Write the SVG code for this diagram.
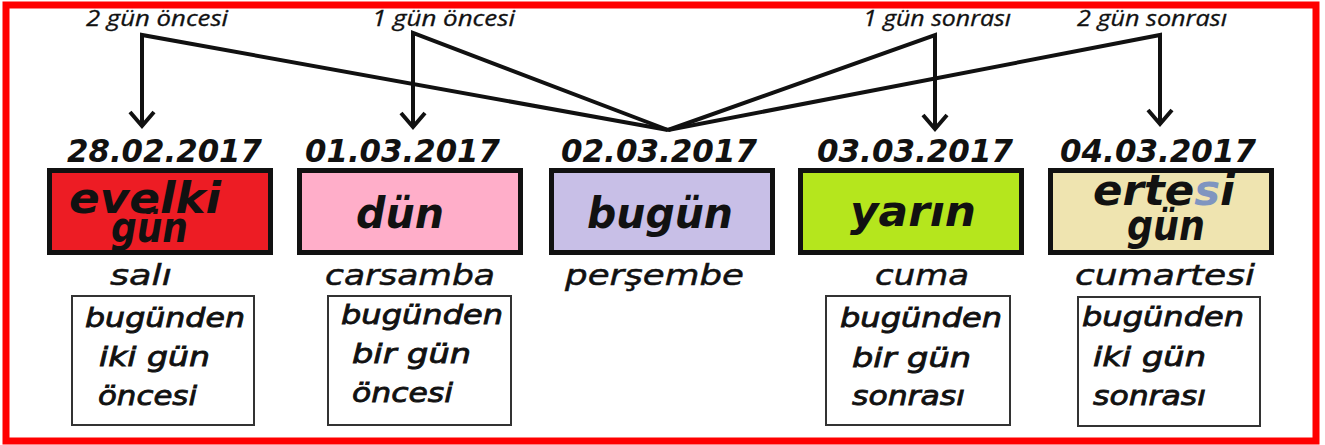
<svg xmlns="http://www.w3.org/2000/svg" width="1325" height="445" viewBox="0 0 1325 445">
<style>
.top{font-family:"Open Sans","DejaVu Sans",sans-serif;font-style:italic;font-size:21px;fill:#111;stroke:#111;stroke-width:0.3}
.date{font-family:"DejaVu Sans",sans-serif;font-style:italic;font-weight:bold;font-size:32px;fill:#111}
.word{font-family:"DejaVu Sans",sans-serif;font-style:italic;font-weight:bold;font-size:43px;fill:#111}
.day{font-family:"DejaVu Sans",sans-serif;font-style:italic;font-size:29px;fill:#111;stroke:#111;stroke-width:0.5}
.note{font-family:"DejaVu Sans",sans-serif;font-style:italic;font-size:26px;fill:#111;stroke:#111;stroke-width:0.8}
.box{stroke:#111;stroke-width:5}
.small{fill:#fff;stroke:#333;stroke-width:2}
.ln{fill:none;stroke:#111;stroke-width:4;stroke-linejoin:miter}
.ah{fill:none;stroke:#111;stroke-width:4;stroke-linejoin:miter}
</style>
<rect x="6" y="5" width="1310" height="436" fill="#fff" stroke="#ff0000" stroke-width="7"/>

<g id="connectors">
  <polyline class="ln" points="142,125 142,35 668,130"/>
  <polyline class="ah" points="130,112 142,126 154,112"/>
  <polyline class="ln" points="413,126 413,33 668,130"/>
  <polyline class="ah" points="401,113 413,127 425,113"/>
  <polyline class="ln" points="935,128 935,35 668,130"/>
  <polyline class="ah" points="923,115 935,129 947,115"/>
  <polyline class="ln" points="1160,123 1160,35 668,130"/>
  <polyline class="ah" points="1148,110 1160,124 1172,110"/>
</g>

<g id="label-2-once"><text class="top" x="86" y="26" textLength="142" lengthAdjust="spacingAndGlyphs">2 gün öncesi</text></g>
<g id="label-1-once"><text class="top" x="372" y="26" textLength="143" lengthAdjust="spacingAndGlyphs">1 gün öncesi</text></g>
<g id="label-1-sonra"><text class="top" x="863" y="26" textLength="148" lengthAdjust="spacingAndGlyphs">1 gün sonrası</text></g>
<g id="label-2-sonra"><text class="top" x="1077" y="26" textLength="150" lengthAdjust="spacingAndGlyphs">2 gün sonrası</text></g>

<g id="node-evelki">
  <text class="date" x="67" y="162" textLength="195" lengthAdjust="spacingAndGlyphs">28.02.2017</text>
  <rect class="box" x="49.5" y="170.5" width="221" height="82" fill="#ed1c24"/>
  <text class="word" x="69" y="213" textLength="152" lengthAdjust="spacingAndGlyphs">evelki</text>
  <text class="word" x="111" y="242" font-size="38" textLength="77" lengthAdjust="spacingAndGlyphs">gün</text>
  <text class="day" x="110" y="285" textLength="62" lengthAdjust="spacingAndGlyphs">salı</text>
  <rect class="small" x="72" y="296" width="182" height="129"/>
  <text class="note" x="85" y="327" textLength="160" lengthAdjust="spacingAndGlyphs">bugünden</text>
  <text class="note" x="99" y="366" textLength="111" lengthAdjust="spacingAndGlyphs">iki gün</text>
  <text class="note" x="98" y="405" textLength="99" lengthAdjust="spacingAndGlyphs">öncesi</text>
</g>

<g id="node-dun">
  <text class="date" x="305" y="162" textLength="195" lengthAdjust="spacingAndGlyphs">01.03.2017</text>
  <rect class="box" x="299.5" y="170.5" width="221" height="82" fill="#ffaec9"/>
  <text class="word" x="356" y="228" textLength="88" lengthAdjust="spacingAndGlyphs">dün</text>
  <text class="day" x="325" y="285" textLength="170" lengthAdjust="spacingAndGlyphs">carsamba</text>
  <rect class="small" x="328" y="296" width="183" height="129"/>
  <text class="note" x="341" y="324" textLength="162" lengthAdjust="spacingAndGlyphs">bugünden</text>
  <text class="note" x="352" y="363" textLength="119" lengthAdjust="spacingAndGlyphs">bir gün</text>
  <text class="note" x="352" y="402" textLength="101" lengthAdjust="spacingAndGlyphs">öncesi</text>
</g>

<g id="node-bugun">
  <text class="date" x="561" y="162" textLength="196" lengthAdjust="spacingAndGlyphs">02.03.2017</text>
  <rect class="box" x="551.5" y="170.5" width="221" height="82" fill="#c8bfe7"/>
  <text class="word" x="587" y="228" textLength="146" lengthAdjust="spacingAndGlyphs">bugün</text>
  <text class="day" x="565" y="285" textLength="179" lengthAdjust="spacingAndGlyphs">perşembe</text>
</g>

<g id="node-yarin">
  <text class="date" x="817" y="162" textLength="196" lengthAdjust="spacingAndGlyphs">03.03.2017</text>
  <rect class="box" x="800.5" y="170.5" width="221" height="82" fill="#b5e61d"/>
  <text class="word" x="850" y="226" textLength="126" lengthAdjust="spacingAndGlyphs">yarın</text>
  <text class="day" x="875" y="285" textLength="94" lengthAdjust="spacingAndGlyphs">cuma</text>
  <rect class="small" x="826" y="296" width="184" height="129"/>
  <text class="note" x="840" y="327" textLength="162" lengthAdjust="spacingAndGlyphs">bugünden</text>
  <text class="note" x="852" y="367" textLength="119" lengthAdjust="spacingAndGlyphs">bir gün</text>
  <text class="note" x="852" y="405" textLength="113" lengthAdjust="spacingAndGlyphs">sonrası</text>
</g>

<g id="node-ertesi">
  <text class="date" x="1060" y="162" textLength="196" lengthAdjust="spacingAndGlyphs">04.03.2017</text>
  <rect class="box" x="1050.5" y="170.5" width="221" height="82" fill="#efe4b0"/>
  <text class="word" x="1093" y="205" textLength="142" lengthAdjust="spacingAndGlyphs">erte<tspan fill="#7f95c0">s</tspan>i</text>
  <text class="word" x="1127" y="240" font-size="40" textLength="78" lengthAdjust="spacingAndGlyphs">gün</text>
  <text class="day" x="1075" y="285" textLength="180" lengthAdjust="spacingAndGlyphs">cumartesi</text>
  <rect class="small" x="1078" y="297" width="182" height="129"/>
  <text class="note" x="1082" y="326" textLength="162" lengthAdjust="spacingAndGlyphs">bugünden</text>
  <text class="note" x="1093" y="366" textLength="113" lengthAdjust="spacingAndGlyphs">iki gün</text>
  <text class="note" x="1093" y="405" textLength="113" lengthAdjust="spacingAndGlyphs">sonrası</text>
</g>
</svg>
